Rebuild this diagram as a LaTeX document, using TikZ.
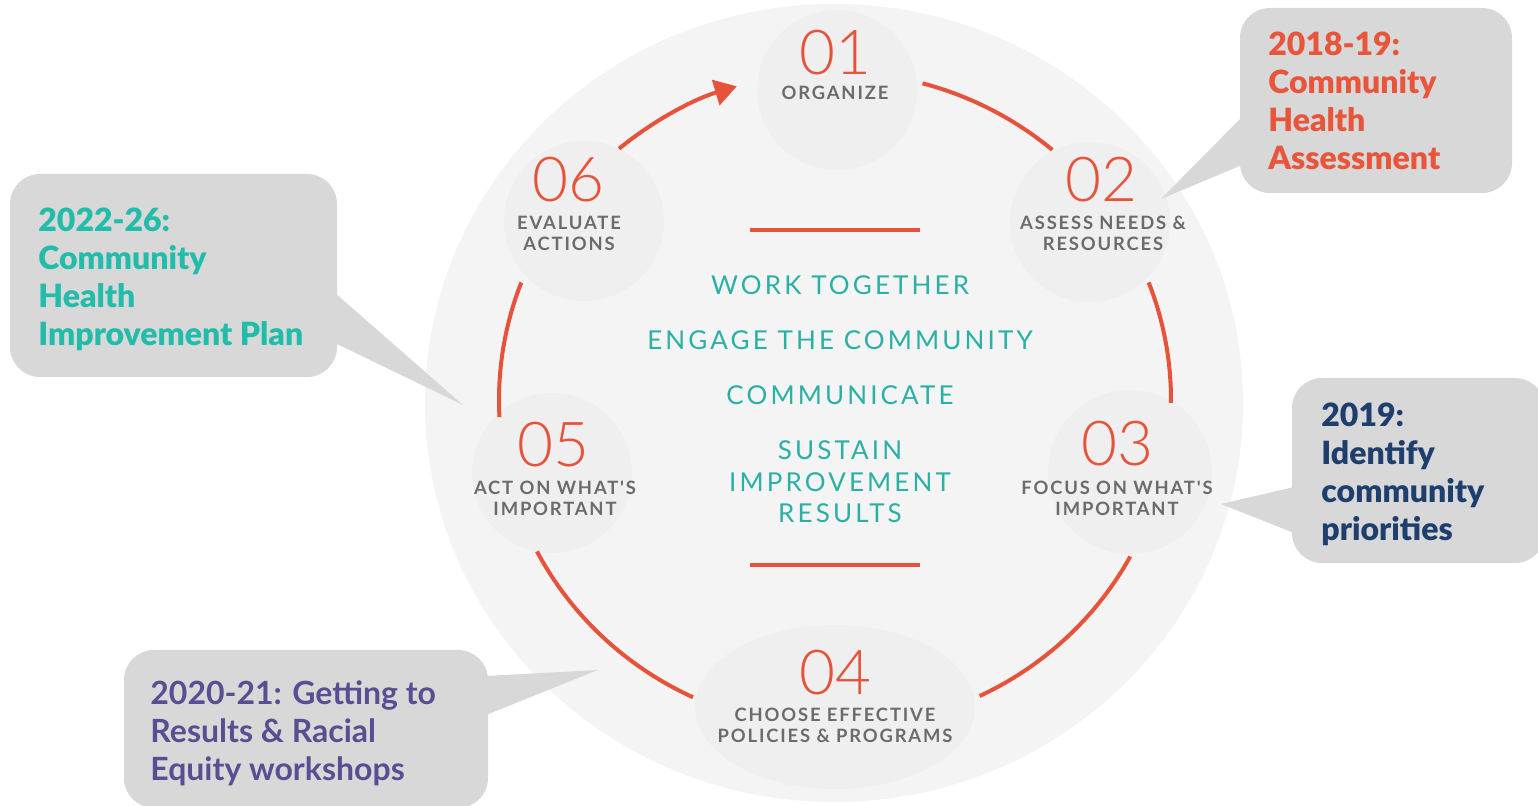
\documentclass[tikz,border=0pt]{standalone}
\usepackage{fontspec}
\setmainfont{Lato}
\newfontfamily\numfont{Lato}[UprightFont=* Light]
\newfontfamily\labfont{Lato}[UprightFont=* Bold, LetterSpace=10]
\newfontfamily\tealfont{Lato}[LetterSpace=12]
\newfontfamily\blackfont{Lato}[UprightFont=* Black]
\newfontfamily\boldfont{Lato}[UprightFont=* Bold]
\usetikzlibrary{arrows.meta}
\definecolor{bigc}{HTML}{F4F4F4}
\definecolor{smallc}{HTML}{EFEFEF}
\definecolor{redc}{HTML}{E6533A}
\definecolor{grayc}{HTML}{6B6B6B}
\definecolor{tealc}{HTML}{2AB0A4}
\definecolor{tealb}{HTML}{22BDAA}
\definecolor{navyc}{HTML}{1E3F6D}
\definecolor{purc}{HTML}{5A4E92}
\definecolor{orc}{HTML}{E8553A}
\definecolor{callg}{HTML}{D8D8D8}
\begin{document}
\begin{tikzpicture}[x=0.5pt,y=-0.5pt,
  num/.style={font=\numfont\fontsize{31}{31}\selectfont, text=redc, inner sep=0},
  lab/.style={font=\labfont\fontsize{9.2}{10.5}\selectfont, text=grayc, align=center, inner sep=0},
  tealtxt/.style={font=\tealfont\fontsize{13}{15.75}\selectfont, text=tealc, align=center, inner sep=0},
  cyc/.style={line width=2pt, draw=redc},
  callbox/.style={fill=callg, rounded corners=15pt},
  callptr/.style={fill=callg},
  calltext/.style={align=left, inner sep=0, anchor=north west}]
\clip (0,0) rectangle (1538,806);
\useasboundingbox (0,0) rectangle (1538,806);
\fill[white] (0,0) rectangle (1538,806);
\coordinate (C) at (835,400);
\fill[bigc] (834,403) ellipse [x radius=409, y radius=399];
% step discs
\fill[smallc] (837,90) circle [radius=80];
\fill[smallc] (1090,222) circle [radius=80];
\fill[smallc] (1130,472) circle [radius=82];
\fill[smallc] (835,707) ellipse [x radius=140, y radius=82];
\fill[smallc] (552,473) circle [radius=80];
\fill[smallc] (584,221) circle [radius=80];
% cycle arcs
\draw[cyc] ([shift={(-74.9:336 and 328)}]C) arc[start angle=-74.9, end angle=-49.7, x radius=336, y radius=328];
\draw[cyc] ([shift={(-21:336 and 328)}]C) arc[start angle=-21, end angle=0.5, x radius=336, y radius=328];
\draw[cyc] ([shift={(28.5:336 and 328)}]C) arc[start angle=28.5, end angle=64.5, x radius=336, y radius=328];
\draw[cyc] ([shift={(115:336 and 328)}]C) arc[start angle=115, end angle=152.5, x radius=336, y radius=328];
\draw[cyc] ([shift={(177:336 and 328)}]C) arc[start angle=177, end angle=201, x radius=336, y radius=328];
\draw[cyc, -{Triangle[length=11pt,width=13pt]}] ([shift={(230:336 and 328)}]C) arc[start angle=230, end angle=253, x radius=336, y radius=328];
% central rules
\draw[line width=2pt, redc] (750,230) -- (920,230);
\draw[line width=2pt, redc] (750,565) -- (920,565);
% steps
\node[num] (n1) at (835,52.5) {01};
\node[lab] (l1) at (835,92.5) {ORGANIZE};
\node[num] (n2) at (1101,179.5) {02};
\node[lab] (l2) at (1103,233.5) {ASSESS NEEDS \&\\RESOURCES};
\node[num] (n3) at (1117,444) {03};
\node[lab] (l3) at (1117,498) {FOCUS ON WHAT'S\\IMPORTANT};
\node[num] (n4) at (835,673) {04};
\node[lab] (l4) at (835,725) {CHOOSE EFFECTIVE\\POLICIES \& PROGRAMS};
\node[num] (n5) at (553,445) {05};
\node[lab] (l5) at (555,498) {ACT ON WHAT'S\\IMPORTANT};
\node[num] (n6) at (568,180) {06};
\node[lab] (l6) at (569,233.5) {EVALUATE\\ACTIONS};
% center
\node[tealtxt] (t1) at (840,285) {WORK TOGETHER};
\node[tealtxt] (t2) at (840,340) {ENGAGE THE COMMUNITY};
\node[tealtxt] (t3) at (840,395) {COMMUNICATE};
\node[tealtxt] (t4) at (840,482) {SUSTAIN\\IMPROVEMENT\\RESULTS};
% callout top right
\fill[callbox] (1240,8) rectangle (1512,193);
\fill[callptr] (1242,117) -- (1161,199) -- (1242,165) -- cycle;
\node[calltext, font=\blackfont\fontsize{16}{19}\selectfont, text=orc] (c1) at (1268,32) {2018-19:\\Community\\Health\\Assessment};
% callout left
\fill[callbox] (10,174) rectangle (337,377);
\fill[callptr] (335,293) -- (463,405) -- (335,343) -- cycle;
\node[calltext, font=\blackfont\fontsize{16}{19}\selectfont, text=tealb] (c2) at (38,208) {2022-26:\\Community\\Health\\Improvement Plan};
% callout bottom
\fill[callbox] (124,650) rectangle (488,808);
\fill[callptr] (486,676) -- (598,670) -- (486,715) -- cycle;
\node[calltext, font=\boldfont\fontsize{16}{19}\selectfont, text=purc] (c3) at (150,680) {2020-21: Getting to\\Results \& Racial\\Equity workshops};
% callout right
\fill[callbox] (1292,378) rectangle (1545,563);
\fill[callptr] (1294,487) -- (1221,504) -- (1294,533) -- cycle;
\node[calltext, font=\blackfont\fontsize{16}{19}\selectfont, text=navyc] (c4) at (1321,403) {2019:\\Identify\\community\\priorities};
\end{tikzpicture}
\end{document}
